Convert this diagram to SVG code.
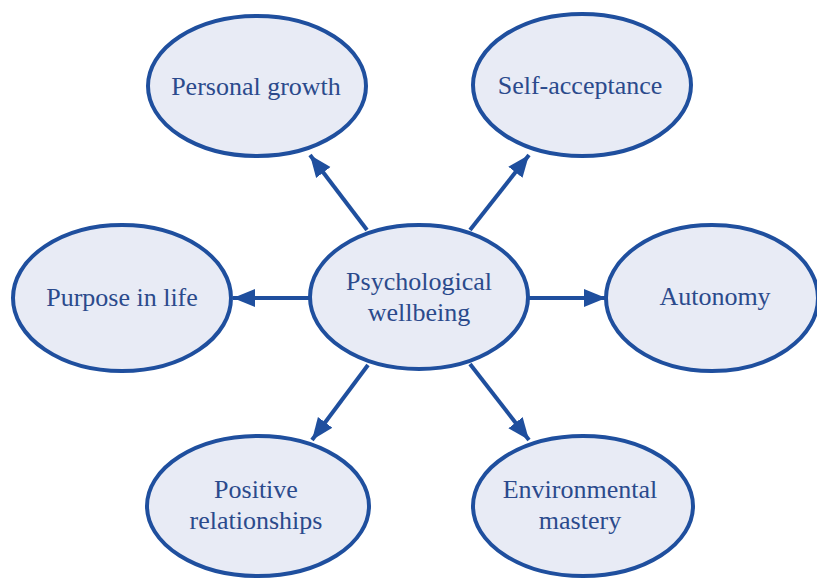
<svg xmlns="http://www.w3.org/2000/svg" width="817" height="578" viewBox="0 0 817 578">
<style>
.node ellipse{fill:#e8ebf5;stroke:#1f4f9e;stroke-width:4}
.node text{font-family:'Liberation Serif','DejaVu Serif',serif;font-size:26px;fill:#2b4a8c;text-anchor:middle}
.conn line{stroke:#1f4f9e;stroke-width:4}
</style>
<defs>
<marker id="ah" markerUnits="userSpaceOnUse" markerWidth="24" markerHeight="20" refX="22" refY="10" orient="auto">
<path d="M0,1 L22,10 L0,19 Z" fill="#1f4f9e"/>
</marker>
</defs>
<rect width="817" height="578" fill="#ffffff"/>
<g id="connectors" class="conn">
<line x1="367" y1="230" x2="310" y2="155" marker-end="url(#ah)"/>
<line x1="470" y1="230" x2="529" y2="155" marker-end="url(#ah)"/>
<line x1="310" y1="298" x2="233" y2="298" marker-end="url(#ah)"/>
<line x1="528" y1="298" x2="606" y2="298" marker-end="url(#ah)"/>
<line x1="368" y1="365" x2="312" y2="440" marker-end="url(#ah)"/>
<line x1="470" y1="364" x2="529" y2="440" marker-end="url(#ah)"/>
</g>
<g id="personal-growth" class="node">
<ellipse cx="257" cy="86" rx="109" ry="70"/>
<text x="256" y="95">Personal growth</text>
</g>
<g id="self-acceptance" class="node">
<ellipse cx="582" cy="85" rx="109" ry="71"/>
<text x="580" y="94">Self-acceptance</text>
</g>
<g id="purpose-in-life" class="node">
<ellipse cx="122" cy="298" rx="109" ry="73"/>
<text x="122" y="306">Purpose in life</text>
</g>
<g id="psychological-wellbeing" class="node">
<ellipse cx="419" cy="297" rx="109" ry="72"/>
<text x="419" y="290">Psychological</text>
<text x="419" y="321">wellbeing</text>
</g>
<g id="autonomy" class="node">
<ellipse cx="712" cy="298" rx="106" ry="73"/>
<text x="715" y="305">Autonomy</text>
</g>
<g id="positive-relationships" class="node">
<ellipse cx="258" cy="506" rx="111" ry="70"/>
<text x="256" y="498">Positive</text>
<text x="256" y="529">relationships</text>
</g>
<g id="environmental-mastery" class="node">
<ellipse cx="583" cy="506" rx="110" ry="70"/>
<text x="580" y="498">Environmental</text>
<text x="580" y="529">mastery</text>
</g>
</svg>
